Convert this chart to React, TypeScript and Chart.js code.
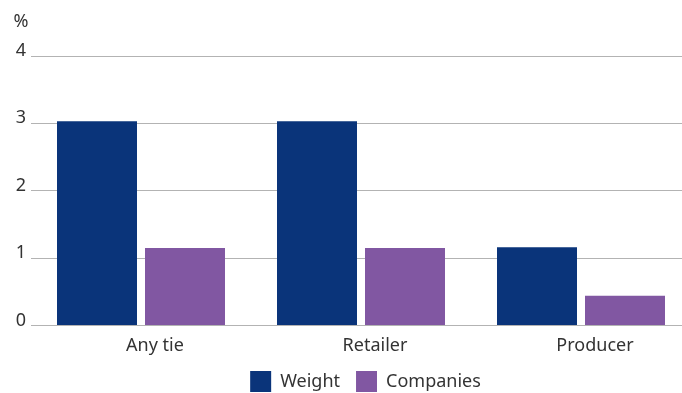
import React, { useEffect, useRef } from 'react';
import { Chart, registerables } from 'chart.js';

Chart.register(...registerables);

const categories = ['Any tie', 'Retailer', 'Producer'];
const weightValues = [3.03, 3.03, 1.16];
const companiesValues = [1.15, 1.15, 0.44];
const yTickValues = [0, 1, 2, 3, 4];
const seriesNames = ['Weight', 'Companies'];
const unitLabel = '%';

const FONT = "'Noto Sans', 'Open Sans', sans-serif";
const TEXT = '#333333';

const unitPlugin = {
  id: 'unitLabel',
  afterDraw(chart: any) {
    const ctx = chart.ctx;
    ctx.save();
    ctx.fillStyle = TEXT;
    ctx.font = `18px ${FONT}`;
    ctx.textAlign = 'left';
    ctx.textBaseline = 'alphabetic';
    ctx.fillText(unitLabel, 13.5, 27);
    ctx.restore();
  },
};

const legendShiftPlugin = {
  id: 'legendShift',
  afterLayout(chart: any) {
    const l = chart.legend;
    if (l) {
      l.left += 20;
      l.right += 20;
    }
  },
};

export default function App() {
  const ref = useRef<HTMLCanvasElement>(null);
  useEffect(() => {
    const chart = new Chart(ref.current!, {
      type: 'bar',
      data: {
        labels: categories,
        datasets: [
          {
            label: seriesNames[0],
            data: weightValues,
            backgroundColor: '#0a347a',
            categoryPercentage: 0.8,
            barPercentage: 80 / 88,
          },
          {
            label: seriesNames[1],
            data: companiesValues,
            backgroundColor: '#8157a2',
            categoryPercentage: 0.8,
            barPercentage: 80 / 88,
          },
        ],
      },
      options: {
        animation: false,
        responsive: false,
        layout: { padding: { top: 56, left: 0, right: 0, bottom: 0 } },
        scales: {
          x: {
            grid: { display: false },
            border: { display: false },
            afterFit: (s: any) => {
              s.height = s.height - 4;
            },
            ticks: {
              color: TEXT,
              font: { family: FONT, size: 18 },
              labelOffset: 14,
              padding: 2,
            },
          },
          y: {
            min: 0,
            max: 4,
            afterFit: (s: any) => {
              s.width = 31;
            },
            afterBuildTicks: (s: any) => {
              s.ticks = yTickValues.map((v) => ({ value: v }));
            },
            grid: { color: '#b3b3b3', drawTicks: false, lineWidth: 1 },
            border: { display: false },
            ticks: {
              color: TEXT,
              font: { family: FONT, size: 18 },
              padding: 5,
              labelOffset: -5,
            },
          },
        },
        plugins: {
          legend: {
            position: 'bottom',
            labels: {
              boxWidth: 21,
              boxHeight: 21,
              padding: 16,
              color: TEXT,
              font: { family: FONT, size: 18 },
            },
          },
          tooltip: { enabled: false },
        },
      },
      plugins: [unitPlugin, legendShiftPlugin],
    } as any);
    return () => chart.destroy();
  }, []);
  return (
    <div
      style={{
        position: 'fixed',
        left: 0,
        top: 0,
        width: 682,
        height: 393,
        overflow: 'hidden',
        background: '#ffffff',
      }}
    >
      <canvas ref={ref} width={691} height={402} style={{ display: 'block' }} />
    </div>
  );
}
